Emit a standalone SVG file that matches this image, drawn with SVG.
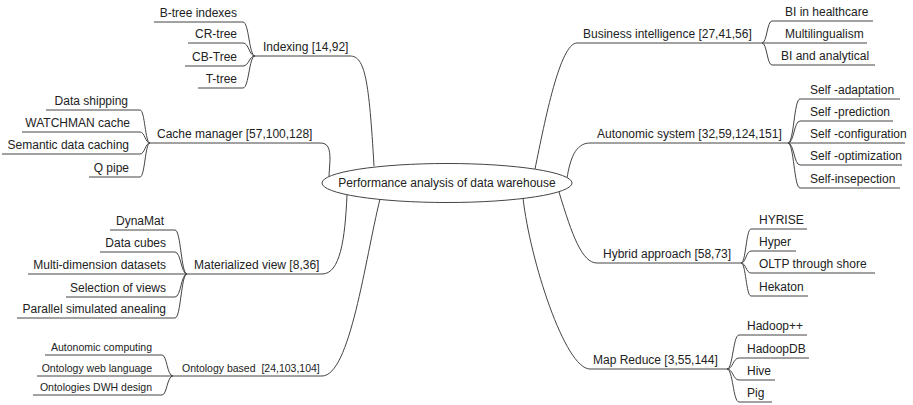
<svg xmlns="http://www.w3.org/2000/svg" width="913" height="405" viewBox="0 0 913 405">
<style>
text{font-family:"Liberation Sans",Arial,sans-serif;font-size:12px;fill:#222}
.s{font-size:10.5px}
.e{text-anchor:end}
.u,.c path{stroke:#444;stroke-width:1;fill:none}
.root{fill:#fff;stroke:#444;stroke-width:1}
</style>
<rect width="913" height="405" fill="#fff"/>
<g class="c" id="connectors">
<path d="M350,56 C365,56 369,80 374,166"/>
<path d="M320,143 C328,143 330,148 330,160 L329,176"/>
<path d="M322,274 C340,274 345,240 347,195"/>
<path d="M322,376 C350,376 365,260 380,199"/>
<path d="M577,43 C560,43 545,120 535,169"/>
<path d="M590,143 C575,143 570,160 567,178"/>
<path d="M597,263 C582,263 572,235 559,192"/>
<path d="M590,369 C565,369 530,260 523,198"/>
<path d="M255,56 C249,56 249,22 243,22"/><path d="M255,56 C249,56 249,43 243,43"/><path d="M255,56 C249,56 249,66 243,66"/><path d="M255,56 C249,56 249,88 243,88"/>
<path d="M150,143 C145,143 145,110 140,110"/><path d="M150,143 C145,143 145,132 140,132"/><path d="M150,143 C145,143 145,154 140,154"/><path d="M150,143 C145,143 145,177 140,177"/>
<path d="M187,274 C181,274 181,230 175,230"/><path d="M187,274 C181,274 181,252 175,252"/><path d="M187,274 C181,274 181,297 175,297"/><path d="M187,274 C181,274 181,318 175,318"/>
<path d="M173,376 C167,376 167,355 162,355"/><path d="M173,376 C167,376 167,395 162,395"/>
<path d="M762,43 C767,43 767,21 772,21"/><path d="M762,43 C767,43 767,65 772,65"/>
<path d="M788,143 C794,143 794,99 800,99"/><path d="M788,143 C794,143 794,121 800,121"/><path d="M788,143 C794,143 794,165 800,165"/><path d="M788,143 C794,143 794,188 800,188"/>
<path d="M741,263 C746,263 746,229 751,229"/><path d="M741,263 C746,263 746,251 751,251"/><path d="M741,263 C746,263 746,273 751,273"/><path d="M741,263 C746,263 746,296 751,296"/>
<path d="M727,369 C733,369 733,335 739,335"/><path d="M727,369 C733,369 733,358 739,358"/><path d="M727,369 C733,369 733,380 739,380"/><path d="M727,369 C733,369 733,402 739,402"/>
</g>
<g id="root"><ellipse class="root" cx="447" cy="183" rx="125" ry="19.5"/><text x="447" y="187" text-anchor="middle">Performance analysis of data warehouse</text></g>
<g id="indexing"><text x="263" y="51">Indexing [14,92]</text><path class="u" d="M255,56 H350"/></g>
<g id="btree"><text class="e" x="237" y="17">B-tree indexes</text><path class="u" d="M154,22 H243"/></g>
<g id="crtree"><text class="e" x="237" y="38">CR-tree</text><path class="u" d="M188,43 H243"/></g>
<g id="cbtree"><text class="e" x="237" y="61">CB-Tree</text><path class="u" d="M185,66 H243"/></g>
<g id="ttree"><text class="e" x="237" y="83">T-tree</text><path class="u" d="M198,88 H243"/></g>
<g id="cache"><text x="157" y="138">Cache manager [57,100,128]</text><path class="u" d="M150,143 H320"/></g>
<g id="shipping"><text class="e" x="128" y="105">Data shipping</text><path class="u" d="M46,110 H140"/></g>
<g id="watchman"><text class="e" x="130" y="127">WATCHMAN cache</text><path class="u" d="M22,132 H140"/></g>
<g id="semantic"><text class="e" x="129" y="149">Semantic data caching</text><path class="u" d="M2,154 H140"/></g>
<g id="qpipe"><text class="e" x="129" y="172">Q pipe</text><path class="u" d="M89,177 H140"/></g>
<g id="matview"><text x="194" y="269">Materialized view [8,36]</text><path class="u" d="M187,274 H322"/></g>
<g id="dynamat"><text class="e" x="164" y="225">DynaMat</text><path class="u" d="M110,230 H175"/></g>
<g id="cubes"><text class="e" x="166" y="247">Data cubes</text><path class="u" d="M100,252 H175"/></g>
<g id="multidim"><text class="e" x="166" y="269">Multi-dimension datasets</text><path class="u" d="M28,274 H187"/></g>
<g id="selection"><text class="e" x="166" y="292">Selection of views</text><path class="u" d="M66,297 H175"/></g>
<g id="parallel"><text class="e" x="166" y="313">Parallel simulated anealing</text><path class="u" d="M17,318 H175"/></g>
<g id="ontology"><text class="s" x="182" y="372" xml:space="preserve">Ontology based  [24,103,104]</text><path class="u" d="M173,376 H322"/></g>
<g id="autocomp"><text class="s e" x="152" y="351">Autonomic computing</text><path class="u" d="M45,355 H162"/></g>
<g id="owl"><text class="s e" x="152" y="372">Ontology web language</text><path class="u" d="M37,376 H173"/></g>
<g id="dwh"><text class="s e" x="152" y="391">Ontologies DWH design</text><path class="u" d="M33,395 H162"/></g>
<g id="bi"><text x="583" y="38">Business intelligence [27,41,56]</text><path class="u" d="M577,43 H762"/></g>
<g id="bihealth"><text x="785" y="16">BI in healthcare</text><path class="u" d="M772,21 H873"/></g>
<g id="multiling"><text x="785" y="38">Multilingualism</text><path class="u" d="M762,43 H867"/></g>
<g id="bianalyt"><text x="781" y="60">BI and analytical</text><path class="u" d="M772,65 H875"/></g>
<g id="autosys"><text x="597" y="138">Autonomic system [32,59,124,151]</text><path class="u" d="M590,143 H788"/></g>
<g id="adapt"><text x="810" y="94">Self -adaptation</text><path class="u" d="M800,99 H900"/></g>
<g id="predict"><text x="810" y="116">Self -prediction</text><path class="u" d="M800,121 H893"/></g>
<g id="config"><text x="810" y="138">Self -configuration</text><path class="u" d="M788,143 H905"/></g>
<g id="optim"><text x="810" y="160">Self -optimization</text><path class="u" d="M800,165 H902"/></g>
<g id="insp"><text x="810" y="183">Self-insepection</text><path class="u" d="M800,188 H900"/></g>
<g id="hybrid"><text x="603" y="258">Hybrid approach [58,73]</text><path class="u" d="M597,263 H741"/></g>
<g id="hyrise"><text x="759" y="224">HYRISE</text><path class="u" d="M751,229 H807"/></g>
<g id="hyper"><text x="759" y="246">Hyper</text><path class="u" d="M751,251 H796"/></g>
<g id="oltp"><text x="759" y="268">OLTP through shore</text><path class="u" d="M751,273 H875"/></g>
<g id="hekaton"><text x="759" y="291">Hekaton</text><path class="u" d="M751,296 H808"/></g>
<g id="mapreduce"><text x="593" y="364">Map Reduce [3,55,144]</text><path class="u" d="M590,369 H727"/></g>
<g id="hadooppp"><text x="747" y="330">Hadoop++</text><path class="u" d="M739,335 H807"/></g>
<g id="hadoopdb"><text x="747" y="353">HadoopDB</text><path class="u" d="M739,358 H809"/></g>
<g id="hive"><text x="747" y="375">Hive</text><path class="u" d="M739,380 H775"/></g>
<g id="pig"><text x="747" y="397">Pig</text><path class="u" d="M739,402 H772"/></g>
</svg>
